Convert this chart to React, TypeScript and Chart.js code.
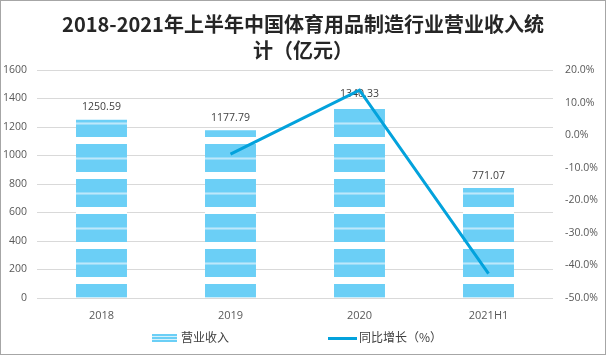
import React, { useEffect, useRef } from 'react';
import { Chart, registerables } from 'chart.js';

Chart.register(...registerables);

const categories = ['2018', '2019', '2020', '2021H1'];
const revenue = [1250.59, 1177.79, 1340.33, 771.07];
const growth: (number | null)[] = [null, -5.8, 13.8, -42.5];
const revenueLabel = '营业收入';
const growthLabel = '同比增长（%）';
const titleLines = ['2018-2021年上半年中国体育用品制造行业营业收入统', '计（亿元）'];
const leftAxis = { min: 0, max: 1600, step: 200 };
const rightAxis = { min: -50, max: 20, step: 10 };

const BAR_BLUE = '#6bcff6';
const LINE_BLUE = '#03a2dc';
const TICK_COLOR = '#595959';
const BASE_FONT = '"Open Sans", "Noto Sans CJK SC", sans-serif';
const CJK_FONT = '"Noto Sans CJK SC", sans-serif';

function makePattern(ctx: CanvasRenderingContext2D): CanvasPattern | string {
  const c = document.createElement('canvas');
  c.width = 4;
  c.height = 35;
  const p = c.getContext('2d');
  if (!p) return BAR_BLUE;
  p.fillStyle = BAR_BLUE;
  p.fillRect(0, 0, 4, 35);
  p.fillStyle = '#ffffff';
  p.fillRect(0, 0, 4, 7);
  p.fillStyle = '#98dcf8';
  p.fillRect(0, 20, 4, 1);
  p.fillRect(0, 22, 4, 1);
  p.fillStyle = '#bde8fb';
  p.fillRect(0, 21, 4, 1);
  const pat = ctx.createPattern(c, 'repeat');
  if (!pat) return BAR_BLUE;
  pat.setTransform(new DOMMatrix([1, 0, 0, 1, 0, 32]));
  return pat;
}

const barLabelsPlugin = {
  id: 'barLabels',
  afterDatasetDraw(chart: any, args: any) {
    if (args.meta.type !== 'bar') return;
    const ctx = chart.ctx as CanvasRenderingContext2D;
    ctx.save();
    ctx.font = '10.5px ' + BASE_FONT;
    ctx.fillStyle = '#404040';
    ctx.textAlign = 'center';
    ctx.textBaseline = 'middle';
    args.meta.data.forEach((el: any, i: number) => {
      ctx.fillText(revenue[i].toFixed(2), el.x, el.y - 12.5);
    });
    ctx.restore();
  },
};

const legendAndFramePlugin = {
  id: 'legendFrame',
  afterDraw(chart: any) {
    const ctx = chart.ctx as CanvasRenderingContext2D;
    ctx.save();
    // bar legend swatch
    ctx.fillStyle = BAR_BLUE;
    ctx.fillRect(152, 334, 25, 8);
    ctx.fillStyle = '#d6f1fc';
    ctx.fillRect(152, 336, 25, 1);
    ctx.fillRect(152, 339, 25, 1);
    // line legend swatch
    ctx.strokeStyle = LINE_BLUE;
    ctx.lineWidth = 3;
    ctx.beginPath();
    ctx.moveTo(328, 338.5);
    ctx.lineTo(357, 338.5);
    ctx.stroke();
    // legend text
    ctx.font = '12px ' + CJK_FONT;
    ctx.fillStyle = '#404040';
    ctx.textAlign = 'left';
    ctx.textBaseline = 'middle';
    ctx.fillText(revenueLabel, 181, 337.5);
    ctx.fillText(growthLabel, 359, 337.5);
    // frame
    ctx.strokeStyle = '#a6a6a6';
    ctx.lineWidth = 1;
    ctx.strokeRect(0.5, 0.5, 605, 354);
    ctx.restore();
  },
};

export default function App() {
  const ref = useRef<HTMLCanvasElement | null>(null);

  useEffect(() => {
    const canvas = ref.current;
    if (!canvas) return;
    const ctx = canvas.getContext('2d');
    if (!ctx) return;
    const pattern = makePattern(ctx);

    const chart = new Chart(canvas, {
      type: 'bar',
      data: {
        labels: categories,
        datasets: [
          {
            type: 'line',
            label: growthLabel,
            data: growth,
            yAxisID: 'y1',
            borderColor: LINE_BLUE,
            backgroundColor: LINE_BLUE,
            borderWidth: 3,
            pointRadius: 0,
            tension: 0,
            order: 1,
          } as any,
          {
            type: 'bar',
            label: revenueLabel,
            data: revenue,
            yAxisID: 'y',
            backgroundColor: pattern as any,
            borderWidth: 0,
            categoryPercentage: 1,
            barPercentage: 0.395,
            order: 2,
          } as any,
        ],
      },
      options: {
        responsive: false,
        animation: false,
        layout: { padding: { left: 0, right: 0, top: 0, bottom: 31 } },
        plugins: {
          legend: { display: false },
          tooltip: { enabled: false },
          title: {
            display: true,
            text: titleLines,
            color: '#262626',
            font: { family: CJK_FONT, size: 20, weight: 'bold', lineHeight: 1.3 },
            padding: { top: 11, bottom: 7 },
          },
        },
        scales: {
          x: {
            grid: { display: false, drawTicks: false },
            border: { display: false },
            ticks: {
              color: TICK_COLOR,
              font: { family: BASE_FONT, size: 11 },
              padding: 11,
              maxRotation: 0,
            },
            afterFit: (s: any) => {
              s.height = 26;
            },
          },
          y: {
            position: 'left',
            min: leftAxis.min,
            max: leftAxis.max,
            ticks: {
              stepSize: leftAxis.step,
              color: TICK_COLOR,
              font: { family: BASE_FONT, size: 10.5 },
              padding: 10,
              callback: (v: any) => String(v),
            },
            grid: { color: '#d9d9d9', drawTicks: false, lineWidth: 1 },
            border: { display: false },
            afterFit: (s: any) => {
              s.width = 37;
            },
          },
          y1: {
            position: 'right',
            min: rightAxis.min,
            max: rightAxis.max,
            ticks: {
              stepSize: rightAxis.step,
              color: TICK_COLOR,
              font: { family: BASE_FONT, size: 10.5 },
              padding: 12,
              callback: (v: any) => Number(v).toFixed(1) + '%',
            },
            grid: { display: false, drawTicks: false },
            border: { display: false },
            afterFit: (s: any) => {
              s.width = 53;
            },
          },
        },
      } as any,
      plugins: [barLabelsPlugin, legendAndFramePlugin],
    });

    return () => {
      chart.destroy();
    };
  }, []);

  return (
    <div style={{ position: 'absolute', left: 0, top: 0, width: 606, height: 355, background: '#ffffff' }}>
      <canvas ref={ref} width={606} height={355} style={{ display: 'block' }} />
    </div>
  );
}
